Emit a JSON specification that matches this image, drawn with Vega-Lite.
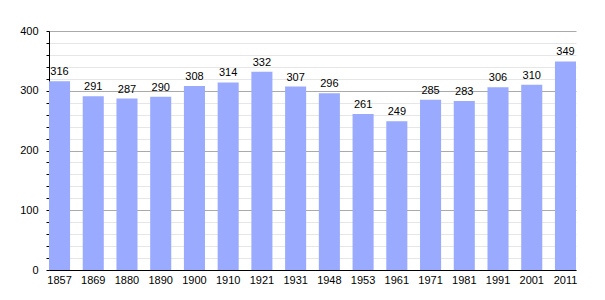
{
  "$schema": "https://vega.github.io/schema/vega-lite/v6.json",
  "width": 527,
  "height": 239,
  "autosize": "none",
  "padding": {"left": 49, "top": 31, "right": 29, "bottom": 30},
  "background": "white",
  "config": {"view": {"stroke": null}, "font": "Liberation Sans"},
  "data": {"values": [
    {"year": "1857", "pop": 316},
    {"year": "1869", "pop": 291},
    {"year": "1880", "pop": 287},
    {"year": "1890", "pop": 290},
    {"year": "1900", "pop": 308},
    {"year": "1910", "pop": 314},
    {"year": "1921", "pop": 332},
    {"year": "1931", "pop": 307},
    {"year": "1948", "pop": 296},
    {"year": "1953", "pop": 261},
    {"year": "1961", "pop": 249},
    {"year": "1971", "pop": 285},
    {"year": "1981", "pop": 283},
    {"year": "1991", "pop": 306},
    {"year": "2001", "pop": 310},
    {"year": "2011", "pop": 349}
  ]},
  "encoding": {
    "x": {
      "field": "year", "type": "ordinal", "sort": null,
      "scale": {"paddingInner": 0.376, "paddingOuter": 0},
      "axis": {"title": null, "labelAngle": 0, "ticks": false, "domainColor": "#000", "domainWidth": 1, "labelFontSize": 11, "labelColor": "#000", "labelPadding": 4}
    },
    "y": {
      "field": "pop", "type": "quantitative",
      "scale": {"domain": [0, 400], "nice": false},
      "axis": {
        "title": null,
        "values": [0,20,40,60,80,100,120,140,160,180,200,220,240,260,280,300,320,340,360,380,400],
        "labelExpr": "datum.value % 100 === 0 ? datum.label : ''",
        "grid": true,
        "gridColor": {"condition": {"test": "datum.value % 100 === 0", "value": "#aaaaaa"}, "value": "#e6e6e6"},
        "tickSize": 3, "tickColor": "#000",
        "domainColor": "#000",
        "labelFontSize": 11, "labelColor": "#000", "labelPadding": 8
      }
    }
  },
  "layer": [
    {"mark": {"type": "bar", "color": "#99aaff"}},
    {"mark": {"type": "text", "baseline": "bottom", "dy": -4, "fontSize": 11, "color": "#000"},
     "encoding": {"text": {"field": "pop", "type": "quantitative"}}}
  ]
}
